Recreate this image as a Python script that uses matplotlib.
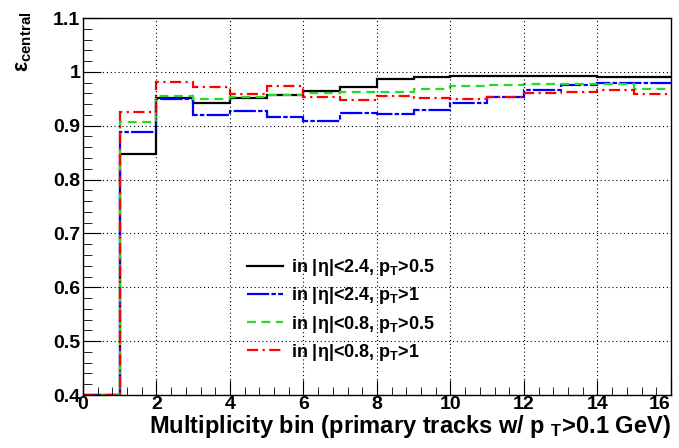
import numpy as np
import matplotlib
matplotlib.use("Agg")
import matplotlib.pyplot as plt
from matplotlib.ticker import MultipleLocator

plt.rcParams["font.family"] = ["Liberation Sans", "DejaVu Sans"]
plt.rcParams["font.weight"] = "bold"
plt.rcParams["mathtext.fontset"] = "custom"
plt.rcParams["mathtext.rm"] = "Liberation Sans:bold"
plt.rcParams["mathtext.it"] = "Liberation Sans:bold"
plt.rcParams["mathtext.bf"] = "Liberation Sans:bold"

bin_edges = np.arange(0, 17)

eff_eta24_pt05 = [0.400, 0.847, 0.952, 0.943, 0.951, 0.957, 0.965, 0.972,
                  0.986, 0.990, 0.993, 0.993, 0.993, 0.993, 0.991, 0.990]
eff_eta24_pt1 = [0.400, 0.888, 0.950, 0.919, 0.928, 0.917, 0.909, 0.923,
                 0.922, 0.929, 0.943, 0.953, 0.966, 0.976, 0.980, 0.980]
eff_eta08_pt05 = [0.400, 0.907, 0.956, 0.949, 0.954, 0.957, 0.960, 0.962,
                  0.963, 0.969, 0.974, 0.976, 0.977, 0.977, 0.977, 0.968]
eff_eta08_pt1 = [0.400, 0.926, 0.982, 0.971, 0.958, 0.974, 0.954, 0.948,
                 0.955, 0.951, 0.949, 0.953, 0.960, 0.962, 0.966, 0.959]

labels = [r"in |$\eta$|<2.4, p$_{T}$>0.5",
          r"in |$\eta$|<2.4, p$_{T}$>1",
          r"in |$\eta$|<0.8, p$_{T}$>0.5",
          r"in |$\eta$|<0.8, p$_{T}$>1"]

x_ticks = [0, 2, 4, 6, 8, 10, 12, 14, 16]
y_ticks = [0.4, 0.5, 0.6, 0.7, 0.8, 0.9, 1.0, 1.1]
y_ticklabels = ["0.4", "0.5", "0.6", "0.7", "0.8", "0.9", "1", "1.1"]

fig = plt.figure(figsize=(6.79, 4.48), dpi=100)
ax = fig.add_axes([0.1222, 0.1183, 0.8660, 0.8415])

# histograms, drawn as steps
styles = [
    dict(color="black", linestyle="-"),
    dict(color="#0000ff", linestyle=(0, (10, 1, 2, 1))),
    dict(color="#22dd22", linestyle=(0, (4, 2.5))),
    dict(color="#ff0000", linestyle=(0, (5, 2, 1, 2))),
]
series = [eff_eta24_pt05, eff_eta24_pt1, eff_eta08_pt05, eff_eta08_pt1]
handles = []
for vals, st, lab in zip(series, styles, labels):
    ax.stairs(vals, bin_edges, baseline=None, linewidth=1.6, label=lab, **st)
    handles.append(plt.Line2D([], [], linewidth=1.6, **st))

ax.set_xlim(0, 16)
ax.set_ylim(0.4, 1.1)

ax.set_xticks(x_ticks)
ax.set_xticklabels([str(t) for t in x_ticks])
ax.xaxis.set_minor_locator(MultipleLocator(0.4))
ax.set_yticks(y_ticks)
ax.set_yticklabels(y_ticklabels)
ax.yaxis.set_minor_locator(MultipleLocator(0.02))

ax.tick_params(which="both", direction="in", labelsize=14)
ax.tick_params(axis="x", which="major", length=11, pad=1)
ax.tick_params(axis="x", which="minor", length=5.5)
ax.tick_params(axis="y", which="major", length=13, pad=2)
ax.tick_params(axis="y", which="minor", length=6.5)
for lab in ax.get_xticklabels() + ax.get_yticklabels():
    lab.set_fontweight("bold")
# keep "16" inside the figure
ax.get_xticklabels()[-1].set_horizontalalignment("right")

ax.grid(True, which="major", color="black", linestyle=(0, (1, 2.5)), linewidth=0.8)
for sp in ax.spines.values():
    sp.set_linewidth(1.0)

ax.set_xlabel(r"Multiplicity bin (primary tracks w/ p $_{T}$>0.1 GeV)",
              fontsize=17, fontweight="bold", loc="right", labelpad=0)
fig.text(0.035, 0.975, r"$\epsilon_{central}$", rotation=90, fontsize=15.5,
         ha="center", va="top")

ax.legend(handles, labels, loc="upper left", bbox_to_anchor=(0.267, 0.385),
          frameon=False, fontsize=13, handlelength=2.0, handletextpad=0.4,
          labelspacing=0.4, borderaxespad=0)

fig.savefig("out.png", dpi=100)
